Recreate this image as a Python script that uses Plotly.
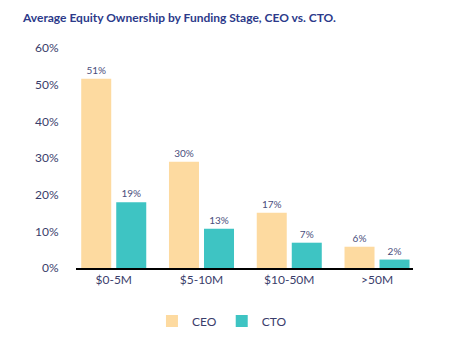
import plotly.graph_objects as go

categories = ["$0-5M", "$5-10M", "$10-50M", ">50M"]
ceo_values = [51.6, 29.0, 15.1, 5.8]
cto_values = [17.9, 10.7, 6.9, 2.3]
ceo_labels = ["51%", "30%", "17%", "6%"]
cto_labels = ["19%", "13%", "7%", "2%"]
y_ticks = [0, 10, 20, 30, 40, 50, 60]
y_tick_labels = ["0%", "10%", "20%", "30%", "40%", "50%", "60%"]

FONT = "Lato"
LABEL_COLOR = "#3a3d6b"

fig = go.Figure()
fig.add_trace(go.Bar(
    name="CEO", x=categories, y=ceo_values, text=ceo_labels,
    textposition="outside", marker_color="#FDDAA0", marker_line_width=0,
    textfont=dict(size=10, color="#4a4e7c", family=FONT), cliponaxis=False,
))
fig.add_trace(go.Bar(
    name="CTO", x=categories, y=cto_values, text=cto_labels,
    textposition="outside", marker_color="#3EC4C3", marker_line_width=0,
    textfont=dict(size=10, color="#4a4e7c", family=FONT), cliponaxis=False,
))

fig.update_layout(
    width=453, height=342,
    margin=dict(l=76, r=40, t=48, b=74),
    paper_bgcolor="white", plot_bgcolor="white",
    barmode="group", bargap=0.202, bargroupgap=0.143,
    font=dict(family=FONT, color=LABEL_COLOR, size=12),
    title=dict(
        text="<b>Average Equity Ownership by Funding Stage, CEO vs. CTO.</b>",
        xref="container", yref="container",
        x=23 / 453, xanchor="left", y=1 - 18 / 342, yanchor="middle",
        font=dict(size=12, color="#2c3a8a", family=FONT),
    ),
    showlegend=True,
    legend=dict(
        orientation="h", xref="container", yref="container",
        x=0.49, xanchor="center", y=21 / 342, yanchor="middle",
        font=dict(size=12, color=LABEL_COLOR, family=FONT),
        itemwidth=30, traceorder="normal",
    ),
)

fig.update_xaxes(
    range=[-0.43, 3.41], showline=True, linecolor="black", linewidth=1.5,
    showgrid=False, ticks="", tickfont=dict(size=12, color=LABEL_COLOR),
)
fig.update_yaxes(
    range=[0, 60], tickvals=y_ticks, ticktext=y_tick_labels,
    showgrid=False, zeroline=False, showline=False,
    ticks="outside", ticklen=0, ticklabelstandoff=14,
    tickfont=dict(size=12, color=LABEL_COLOR),
)

fig.write_html("out.html")
